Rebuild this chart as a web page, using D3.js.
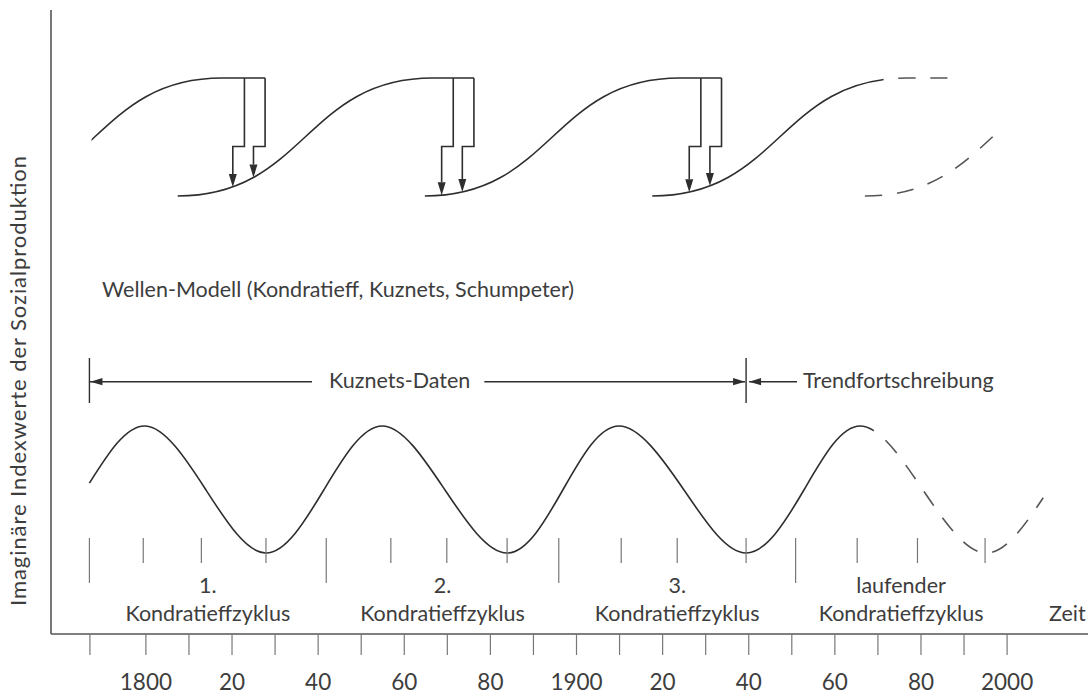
<!DOCTYPE html>
<html>
<head>
<meta charset="utf-8">
<script src="https://cdn.jsdelivr.net/npm/d3@7"></script>
<style>
  body { margin: 0; background: #fff; }
  svg text { font-family: Lato, "Open Sans", sans-serif; fill: #3d3d3d; font-size: 21.5px; }
</style>
</head>
<body>
<svg id="chart" width="1088" height="695"></svg>
<script>
"use strict"
/* Kondratieff waves: S-curve wave model on top, Kuznets data + trend below */

// Kondratieff cycles (years)
var cycleStart = [1787, 1842, 1896, 1951],
    cycleEnd   = [1842, 1896, 1951, 2000],
    cycleNo    = ["1.", "2.", "3.", "laufender"],
    cycleName  = "Kondratieffzyklus",
    phaseTicks = [1799.5, 1813, 1828, 1857, 1870, 1884, 1910.5, 1923.5, 1939.5, 1965.3, 1979.3, 1995];

// lower wave: index values (-1 trough .. 1 peak)
var waveYears  = [1787, 1800, 1814, 1828, 1841.5, 1855, 1869.5, 1884, 1897, 1910, 1925, 1939.5, 1953, 1966, 1980.5, 1995, 2008.5],
    waveValues = [0.1, 1, 0, -1, 0, 1, 0, -1, 0, 1, 0, -1, 0, 1, 0, -1, -0.13],
    trendFrom  = 1969,          // Trendfortschreibung drawn dashed from here
    kuznetsFrom = 1787,
    kuznetsTo   = 1939.5;

// upper wave model: S-curves (start, top reached, end of plateau)
var sStart    = [1758.6, 1807.5, 1864.9, 1917.7, 1967.1],
    sTop      = [1817.8, 1866.7, 1924.1, 1976.9, 2026.3],
    sEnd      = [1827.8, 1876.3, 1933.8, 1986.4, 2026.3],
    sForecast = [false, false, false, false, true],
    modelFrom = 1787.5, modelTo = 1997, modelSplit = 1971.4,
    innovA    = [1820.3, 1868.8, 1926.3],   // arrows onto the next curve
    innovB    = [1825.1, 1873.6, 1931.1];

// x axis
var axisYears  = [1787, 1800, 1810, 1820, 1830, 1840, 1850, 1860, 1870, 1880, 1890, 1900,
                  1910, 1920, 1930, 1940, 1950, 1960, 1970, 1980, 1990, 2000],
    labelYears = [1800, 1820, 1840, 1860, 1880, 1900, 1920, 1940, 1960, 1980, 2000],
    yearLabels = ["1800", "20", "40", "60", "80", "1900", "20", "40", "60", "80", "2000"];

var svg = d3.select("svg#chart"),
    width = +svg.attr("width"),
    height = +svg.attr("height"),
    ink = "#2e2e2e",
    tickInk = "#777",
    dash = "17,15",
    axisY = 634, axisX = 51;

var x = d3.scaleLinear().domain([1800, 2000]).range([145.4, 1006.6]),
    yModel = d3.scaleLinear().domain([0, 1]).range([196, 78]),
    yWave = d3.scaleLinear().domain([-1, 1]).range([553, 426]);

// clip regions for solid (past) and dashed (forecast) parts
var defs = svg.append("defs");
function clipRect(id, x0, x1) {
  defs.append("clipPath").attr("id", id).append("rect")
    .attr("x", x0).attr("y", 0).attr("width", x1 - x0).attr("height", height);
}
clipRect("modelAll", x(modelFrom), x(modelTo));
clipRect("modelPast", x(modelFrom), x(modelSplit));
clipRect("modelFuture", x(modelSplit), x(modelTo));
clipRect("wavePast", 0, x(trendFrom));
clipRect("waveFuture", x(trendFrom), width);

// path length where the path reaches a given x (paths run left to right)
function lengthAtX(node, px) {
  var lo = 0, hi = node.getTotalLength();
  for (var i = 0; i < 30; i++) {
    var mid = (lo + hi) / 2;
    if (node.getPointAtLength(mid).x < px) lo = mid; else hi = mid;
  }
  return lo;
}
function yAtX(node, px) { return node.getPointAtLength(lengthAtX(node, px)).y; }

// axes
svg.append("line")
    .attr("x1", axisX).attr("x2", axisX).attr("y1", 10).attr("y2", axisY)
    .attr("stroke", "#555").attr("stroke-width", 1.6);
svg.append("line")
    .attr("x1", axisX).attr("x2", width).attr("y1", axisY).attr("y2", axisY)
    .attr("stroke", "#555").attr("stroke-width", 1.6);

var xAxis = svg.append("g")
    .attr("transform", "translate(0," + axisY + ")")
    .call(d3.axisBottom(x).tickValues(axisYears).tickSize(21)
      .tickFormat(function(d) { var i = labelYears.indexOf(d); return i < 0 ? "" : yearLabels[i]; }));
xAxis.select(".domain").remove();
xAxis.selectAll(".tick line").attr("stroke", tickInk).attr("stroke-width", 1.2);
xAxis.selectAll(".tick text")
    .attr("y", 56).attr("dy", 0)
    .attr("font-family", null).attr("font-size", null)
    .style("font-size", "22.5px");

svg.append("text")
    .attr("transform", "translate(26," + 381 + ") rotate(-90)")
    .attr("text-anchor", "middle")
    .attr("textLength", 450).attr("lengthAdjust", "spacing")
    .style("font-size", "22px")
    .text("Imaginäre Indexwerte der Sozialproduktion");

svg.append("text").attr("x", 1049).attr("y", 621).text("Zeit");

// ---- upper panel: wave model ----
var model = svg.append("g").attr("clip-path", "url(#modelAll)")
    .attr("fill", "none").attr("stroke", ink).attr("stroke-width", 1.6);

var sLine = d3.line()
    .x(function(d) { return x(d[0]); })
    .y(function(d) { return yModel(d[1]); })
    .curve(d3.curveBumpX);

var curveNodes = [];
sStart.forEach(function(s, i) {
  var d = sLine([[s, 0], [sTop[i], 1], [sEnd[i], 1]]);
  var solid = model.append("path").attr("d", d)
      .attr("clip-path", sForecast[i] ? null : "url(#modelPast)")
      .attr("stroke", sForecast[i] ? "none" : ink);
  curveNodes.push(solid.node());
  if (sForecast[i]) {
    model.append("path").attr("d", d).attr("stroke-dasharray", dash).attr("stroke", "#555");
  } else if (x(sEnd[i]) > x(modelSplit)) {
    var dashed = model.append("path").attr("d", d)
        .attr("clip-path", "url(#modelFuture)")
        .attr("stroke", "#555")
        .attr("stroke-dasharray", dash);
    dashed.attr("stroke-dashoffset", 17 - lengthAtX(dashed.node(), x(modelSplit)));
  }
});

// innovation arrows from a plateau down onto the next curve
var step = 11.6, stepY = yModel(0.42), head = 13, headW = 4;
innovA.forEach(function(a, i) {
  [a, innovB[i]].forEach(function(yr) {
    var ax = x(yr), bx = ax + step, tip = yAtX(curveNodes[i + 1], ax);
    model.append("path")
        .attr("d", "M" + bx + "," + yModel(1) + "V" + stepY + "H" + ax + "V" + (tip - head));
    model.append("path")
        .attr("d", "M" + ax + "," + tip + "l" + (-headW) + "," + (-head) + "h" + (2 * headW) + "z")
        .attr("fill", ink).attr("stroke", "none");
  });
});

svg.append("text").attr("x", 102).attr("y", 297)
    .text("Wellen-Modell (Kondratieff, Kuznets, Schumpeter)");

// ---- Kuznets data / trend annotation ----
var annY = 381.7, arrowLen = 12, arrowW = 3.6;
var ann = svg.append("g").attr("stroke", ink).attr("stroke-width", 1.4);
[kuznetsFrom, kuznetsTo].forEach(function(yr) {
  ann.append("line").attr("x1", x(yr)).attr("x2", x(yr)).attr("y1", 358).attr("y2", 403);
});
function arrowHead(tipX, dir) {
  ann.append("path")
      .attr("d", "M" + tipX + "," + annY + "l" + (dir * arrowLen) + "," + (-arrowW) + "v" + (2 * arrowW) + "z")
      .attr("fill", ink).attr("stroke", "none");
}
var kText = svg.append("text").attr("x", 329).attr("y", 388).text("Kuznets-Daten"),
    kEnd = 329 + kText.node().getComputedTextLength();
ann.append("line").attr("x1", x(kuznetsFrom)).attr("x2", 312).attr("y1", annY).attr("y2", annY);
ann.append("line").attr("x1", kEnd + 14).attr("x2", x(kuznetsTo) - 1).attr("y1", annY).attr("y2", annY);
arrowHead(x(kuznetsFrom) + 1, 1);
arrowHead(x(kuznetsTo) - 1, -1);
ann.append("line").attr("x1", x(kuznetsTo) + 3).attr("x2", 797).attr("y1", annY).attr("y2", annY);
arrowHead(x(kuznetsTo) + 3, 1);
svg.append("text").attr("x", 803).attr("y", 388).text("Trendfortschreibung");

// ---- lower panel: wave ----
var waveLine = d3.line()
    .x(function(d) { return x(d[0]); })
    .y(function(d) { return yWave(d[1]); })
    .curve(d3.curveNatural);
var wavePts = waveYears.map(function(yr, i) { return [yr, waveValues[i]]; });

svg.append("path").attr("d", waveLine(wavePts))
    .attr("clip-path", "url(#wavePast)")
    .attr("fill", "none").attr("stroke", ink).attr("stroke-width", 1.6);
var waveDash = svg.append("path").attr("d", waveLine(wavePts))
    .attr("clip-path", "url(#waveFuture)")
    .attr("fill", "none").attr("stroke", "#555").attr("stroke-width", 1.6)
    .attr("stroke-dasharray", dash);
waveDash.attr("stroke-dashoffset", 17 - lengthAtX(waveDash.node(), x(trendFrom)));

// cycle boundaries and phase ticks
svg.append("g").selectAll("line")
    .data(cycleStart.map(function(d) { return [d, 583]; })
      .concat(phaseTicks.map(function(d) { return [d, 563]; })))
  .enter().append("line")
    .attr("x1", function(d) { return x(d[0]); })
    .attr("x2", function(d) { return x(d[0]); })
    .attr("y1", 538)
    .attr("y2", function(d) { return d[1]; })
    .attr("stroke", tickInk).attr("stroke-width", 1.2);

// cycle labels
var labels = svg.append("g").attr("text-anchor", "middle");
cycleStart.forEach(function(s, i) {
  var cx = x((s + cycleEnd[i]) / 2);
  labels.append("text").attr("x", cx).attr("y", 593).text(cycleNo[i]);
  labels.append("text").attr("x", cx).attr("y", 621).text(cycleName);
});
</script>
</body>
</html>
